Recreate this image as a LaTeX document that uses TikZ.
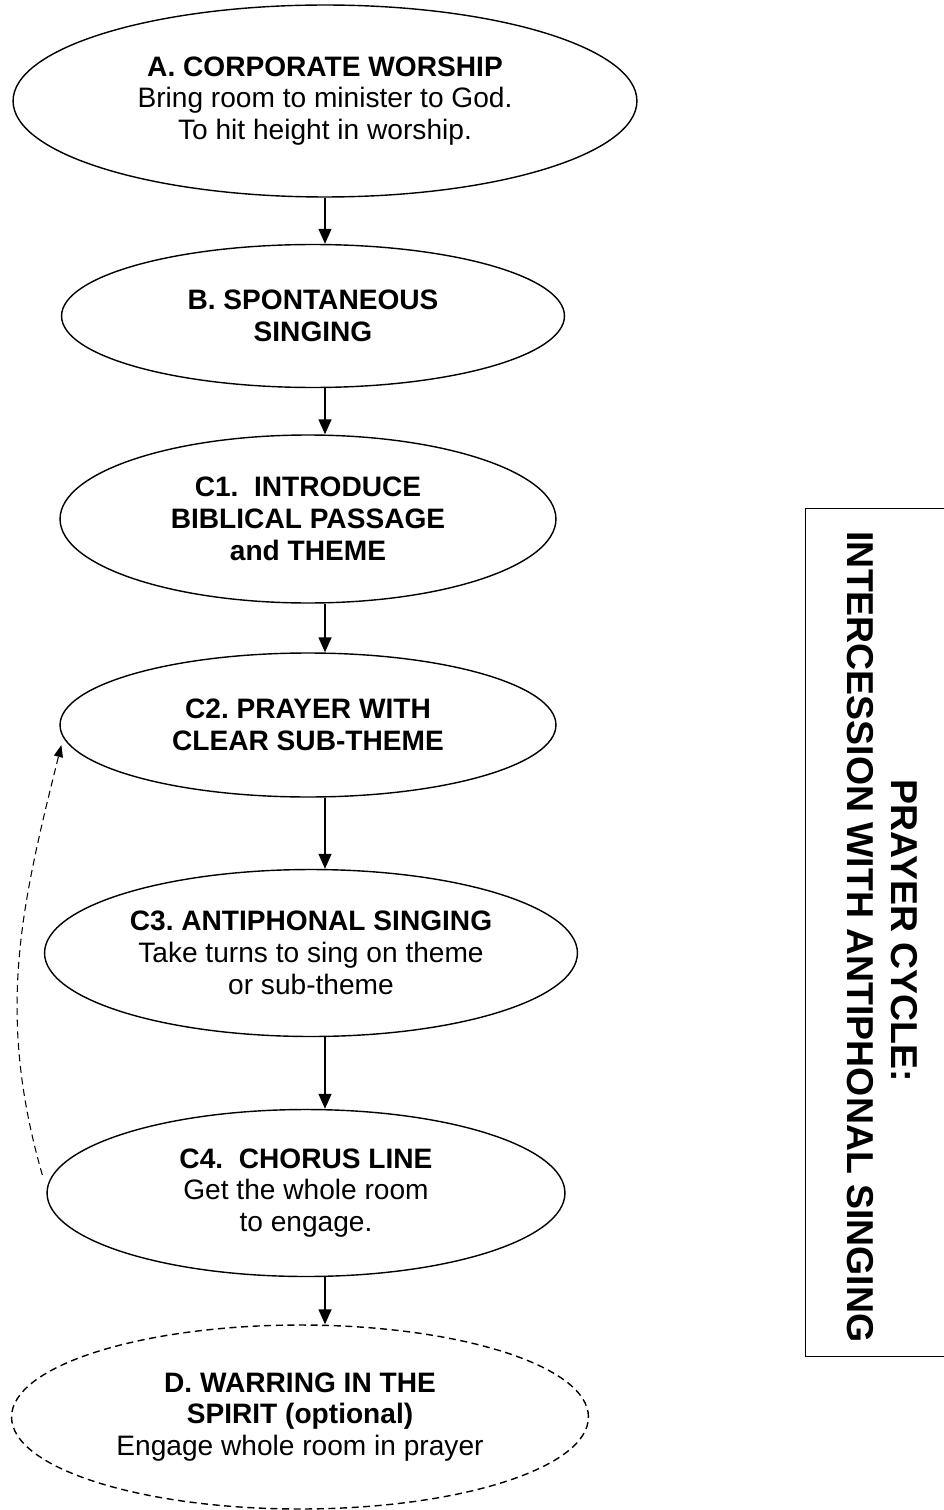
\documentclass[tikz,border=0pt]{standalone}
\usepackage{fontspec}
\setmainfont{Liberation Sans}
\usetikzlibrary{arrows.meta,positioning,shapes.geometric,calc}
\frenchspacing

\begin{document}
\begin{tikzpicture}[
  x=0.02cm,y=-0.02cm,
  every node/.style={font=\fontsize{16}{18.1}\selectfont},
  stage/.style={draw,ellipse,line width=0.8pt,fill=white,align=center,inner sep=0pt},
  flow/.style={-{Triangle[length=0.3cm,width=0.26cm]},line width=0.8pt},
  back/.style={-{Triangle[length=0.24cm,width=0.18cm]},line width=0.6pt,dash pattern=on 4pt off 2.6pt},
  sidetitle/.style={rotate=-90,font=\fontsize{21.3}{24}\selectfont\bfseries,inner sep=0pt}
]
\useasboundingbox (0,0) rectangle (943,1510);
\coordinate (spine) at (325,0);
\node[stage,minimum width=12.48cm,minimum height=3.84cm] (a) at (325,101) {\textbf{A. CORPORATE WORSHIP}\\Bring room to minister to God.\\To hit height in worship.};
\node[stage,minimum width=10.06cm,minimum height=2.86cm] (b) at (313,316) {\textbf{B. SPONTANEOUS}\\\textbf{SINGING}};
\node[stage,minimum width=9.92cm,minimum height=3.36cm] (c1) at (308,519) {\textbf{C1.~~INTRODUCE}\\\textbf{BIBLICAL PASSAGE}\\\textbf{and THEME}};
\node[stage,minimum width=9.92cm,minimum height=2.88cm] (c2) at (308,725) {\textbf{C2. PRAYER WITH}\\\textbf{CLEAR SUB-THEME}};
\node[stage,minimum width=10.66cm,minimum height=3.34cm] (c3) at (311,953) {\textbf{C3. ANTIPHONAL SINGING}\\Take turns to sing on theme\\or sub-theme};
\node[stage,minimum width=10.36cm,minimum height=3.34cm] (c4) at (306,1193) {\textbf{C4.~~CHORUS LINE}\\Get the whole room\\to engage.};
\node[stage,dash pattern=on 4pt off 2.6pt,minimum width=11.54cm,minimum height=3.68cm] (d) at (300,1417) {\textbf{D. WARRING IN THE}\\\textbf{SPIRIT (optional)}\\Engage whole room in prayer};
\draw[flow] (a.south -| spine) -- (b.north -| spine);
\draw[flow] (b.south -| spine) -- (c1.north -| spine);
\draw[flow] (c1.south -| spine) -- (c2.north -| spine);
\draw[flow] (c2.south -| spine) -- (c3.north -| spine);
\draw[flow] (c3.south -| spine) -- (c4.north -| spine);
\draw[flow] (c4.south -| spine) -- (d.north -| spine);
\draw[back] ($(c4.west)+(-4,-18)$) to[out=106,in=-104] ($(c2.west)+(2,20)$);
\node[draw,line width=0.6pt,minimum width=3.2cm,minimum height=16.98cm,inner sep=0pt] (titlebox) at (885,932.5) {};
\node[sidetitle] (cycle) at (904,931) {PRAYER CYCLE:};
\node[sidetitle] (topic) at (860,937) {INTERCESSION WITH ANTIPHONAL SINGING};
\end{tikzpicture}
\end{document}
